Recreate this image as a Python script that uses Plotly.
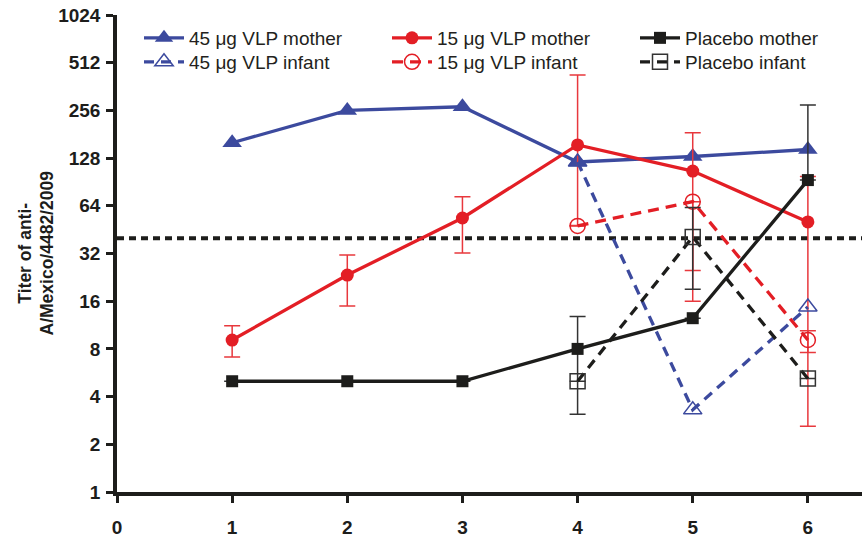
import plotly.graph_objects as go
import math

# ---- data ----
time_points = [1, 2, 3, 4, 5, 6]
infant_points = [4, 5, 6]

vlp45_mother = [160, 256, 270, 121, 131, 145]
vlp45_infant = [121, 3.3, 14.7]

vlp15_mother = [9.1, 23.4, 53.6, 155, 106, 50.6]
vlp15_mother_err_plus = [2.1, 7.9, 19.4, 273, 79, 47.2]
vlp15_mother_err_minus = [2.0, 8.5, 21.4, 107, 81, 48.0]
vlp15_infant = [47.8, 68, 9.1]
vlp15_infant_err_plus = [0, 0, 1.3]
vlp15_infant_err_minus = [0, 52, 1.5]

placebo_mother = [5, 5, 5, 8, 12.5, 93]
placebo_mother_err_plus = [0, 0, 0, 4.8, 0, 184]
placebo_mother_err_minus = [0, 0, 0, 4.9, 0, 0]
placebo_infant = [5, 40.7, 5.2]
placebo_infant_err_plus = [0, 21.7, 0]
placebo_infant_err_minus = [0, 21.7, 0]

threshold = 40
y_ticks = [1, 2, 4, 8, 16, 32, 64, 128, 256, 512, 1024]
x_ticks = [0, 1, 2, 3, 4, 5, 6]

BLUE = "#3C4A9E"
RED = "#E31E25"
BLACK = "#1D1D1B"
RED_ERR = "#E8383D"
BLACK_ERR = "#333333"

FONT = "Liberation Sans, Arial, sans-serif"

fig = go.Figure()

def err(plus, minus, color):
    return dict(type="data", symmetric=False, array=plus, arrayminus=minus,
                color=color, thickness=1.5, width=8)

fig.add_trace(go.Scatter(
    x=time_points, y=vlp45_mother, mode="lines+markers", name="45 μg VLP mother",
    line=dict(color=BLUE, width=3.3), legend="legend",
    marker=dict(symbol="triangle-up", size=17, color=BLUE)))
fig.add_trace(go.Scatter(
    x=time_points, y=vlp15_mother, mode="lines+markers", name="15 μg VLP mother",
    line=dict(color=RED, width=3.3), legend="legend",
    marker=dict(symbol="circle", size=13, color=RED),
    error_y=err(vlp15_mother_err_plus, vlp15_mother_err_minus, RED_ERR)))
fig.add_trace(go.Scatter(
    x=time_points, y=placebo_mother, mode="lines+markers", name="Placebo mother",
    line=dict(color=BLACK, width=3.3), legend="legend", legendwidth=130,
    marker=dict(symbol="square", size=12, color=BLACK),
    error_y=err(placebo_mother_err_plus, placebo_mother_err_minus, BLACK_ERR)))
fig.add_trace(go.Scatter(
    x=infant_points, y=vlp45_infant, mode="lines+markers", name="45 μg VLP infant",
    line=dict(color=BLUE, width=3.3, dash="10px,7px"), legend="legend2",
    marker=dict(symbol="triangle-up-open", size=16, color=BLUE, line=dict(width=1.5))))
fig.add_trace(go.Scatter(
    x=infant_points, y=vlp15_infant, mode="lines+markers", name="15 μg VLP infant",
    line=dict(color=RED, width=3.3, dash="11px,7px"), legend="legend2",
    marker=dict(symbol="circle-open", size=15, color=RED, line=dict(width=1.5)),
    error_y=err(vlp15_infant_err_plus, vlp15_infant_err_minus, RED_ERR)))
fig.add_trace(go.Scatter(
    x=infant_points, y=placebo_infant, mode="lines+markers", name="Placebo infant",
    line=dict(color=BLACK, width=3.3, dash="10px,7px"), legend="legend2", legendwidth=130,
    marker=dict(symbol="square-open", size=15, color="#333333", line=dict(width=1.5)),
    error_y=err(placebo_infant_err_plus, placebo_infant_err_minus, BLACK_ERR)))

fig.add_shape(type="line", xref="paper", yref="y", x0=0, x1=1, y0=threshold, y1=threshold,
              line=dict(color=BLACK, width=4, dash="7px,5px"), layer="below")

legend_common = dict(orientation="h", xref="paper", yref="paper",
                     x=(139 - 117) / 745, xanchor="left", yanchor="top",
                     entrywidth=193, entrywidthmode="pixels",
                     font=dict(size=19, family=FONT, color="#231F20"),
                     bgcolor="rgba(0,0,0,0)", itemwidth=40)

fig.update_layout(
    width=862, height=538,
    margin=dict(l=117, r=0, t=15, b=46, autoexpand=False),
    plot_bgcolor="white", paper_bgcolor="white",
    font=dict(family=FONT, color=BLACK),
    showlegend=True,
    legend=dict(legend_common, y=1 - 4 / 477),
    legend2=dict(legend_common, y=1 - 28 / 477),
    xaxis=dict(range=[0, 6.47], tickvals=x_ticks, ticktext=[str(v) for v in x_ticks],
               showgrid=False, zeroline=False, showline=True, linewidth=3.5, linecolor=BLACK,
               ticks="outside", ticklen=7, tickwidth=2.5, tickcolor=BLACK,
               tickfont=dict(size=19, family=FONT, weight="bold", color=BLACK),
               ticklabelstandoff=8),
    yaxis=dict(type="log", range=[0, math.log10(1024)], tickvals=y_ticks,
               ticktext=[str(v) for v in y_ticks],
               showgrid=False, zeroline=False, showline=True, linewidth=3.5, linecolor=BLACK,
               ticks="outside", ticklen=7, tickwidth=2.5, tickcolor=BLACK,
               tickfont=dict(size=19, family=FONT, weight="bold", color=BLACK),
               ticklabelstandoff=2),
)

fig.add_annotation(text="Titer of anti-<br>A/Mexico/4482/2009", xref="paper", yref="paper",
                   x=0, y=0.5, xanchor="center", yanchor="middle", xshift=-81, textangle=-90,
                   showarrow=False,
                   font=dict(size=17.5, family=FONT, weight="bold", color=BLACK))

fig.write_html("out.html")
